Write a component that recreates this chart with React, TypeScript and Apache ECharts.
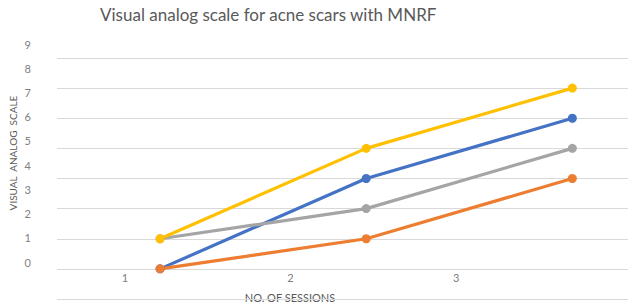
import React, { useEffect, useRef } from "react";
import * as echarts from "echarts";

const sessions = [1, 2, 3];
const sessionLabels = ["1", "2", "3"];
const yTickLabels = ["0", "1", "2", "3", "4", "5", "6", "7", "8", "9"];
const blueValues = [0, 3, 5];
const orangeValues = [0, 1, 3];
const grayValues = [1, 2, 4];
const yellowValues = [1, 4, 6];

const seriesDefs = [
  { name: "Series1", color: "#4472C4", values: blueValues },
  { name: "Series2", color: "#ED7D31", values: orangeValues },
  { name: "Series3", color: "#A5A5A5", values: grayValues },
  { name: "Series4", color: "#FFC000", values: yellowValues },
];

export default function App() {
  const ref = useRef<HTMLDivElement>(null);
  useEffect(() => {
    if (!ref.current) return;
    const chart = echarts.init(ref.current, undefined, { renderer: "svg" });
    const font = "Lato, 'Open Sans', sans-serif";
    chart.setOption({
      animation: false,
      backgroundColor: "#ffffff",
      textStyle: { fontFamily: font },
      grid: [
        { left: 57, right: 0, top: 58, bottom: 5 },
        { left: 42, width: 497, top: 44, bottom: 42 },
      ],
      xAxis: [
        {
          gridIndex: 0,
          type: "value",
          min: 0.5,
          max: 3.27,
          show: false,
          splitLine: { show: false },
        },
        {
          gridIndex: 1,
          type: "category",
          data: sessionLabels,
          boundaryGap: true,
          axisLine: { show: false },
          axisTick: { show: false },
          axisLabel: { color: "#808080", fontSize: 11, margin: 10, fontFamily: font },
        },
      ],
      yAxis: [
        {
          gridIndex: 0,
          type: "value",
          min: -1,
          max: 7,
          interval: 1,
          axisLine: { show: false },
          axisTick: { show: false },
          axisLabel: { show: false },
          splitLine: { lineStyle: { color: "#d9d9d9", width: 1 } },
        },
        {
          gridIndex: 1,
          type: "category",
          data: yTickLabels,
          boundaryGap: false,
          axisLine: { show: false },
          axisTick: { show: false },
          splitLine: { show: false },
          axisLabel: { color: "#808080", fontSize: 11, margin: 11, fontFamily: font },
        },
      ],
      series: seriesDefs.map((s) => ({
        name: s.name,
        type: "line",
        xAxisIndex: 0,
        yAxisIndex: 0,
        data: sessions.map((x, i) => [x, s.values[i]]),
        symbol: "circle",
        symbolSize: 9,
        lineStyle: { color: s.color, width: 3.2 },
        itemStyle: { color: s.color },
      })),
      graphic: [
        {
          type: "text",
          left: 100,
          top: 6,
          style: {
            text: "Visual analog scale for acne scars with MNRF",
            fill: "#595959",
            font: `17px ${font}`,
          },
        },
        {
          type: "text",
          x: 13,
          y: 153,
          rotation: Math.PI / 2,
          style: {
            text: "VISUAL  ANALOG  SCALE",
            fill: "#595959",
            font: `10px ${font}`,
            align: "center",
            verticalAlign: "middle",
          },
        },
        {
          type: "text",
          x: 290,
          y: 297,
          style: {
            text: "NO. OF SESSIONS",
            fill: "#595959",
            font: `11px ${font}`,
            align: "center",
            verticalAlign: "middle",
          },
        },
      ],
    });
    return () => chart.dispose();
  }, []);
  return <div ref={ref} style={{ width: 628, height: 304, position: "absolute", left: 0, top: 0 }} />;
}
